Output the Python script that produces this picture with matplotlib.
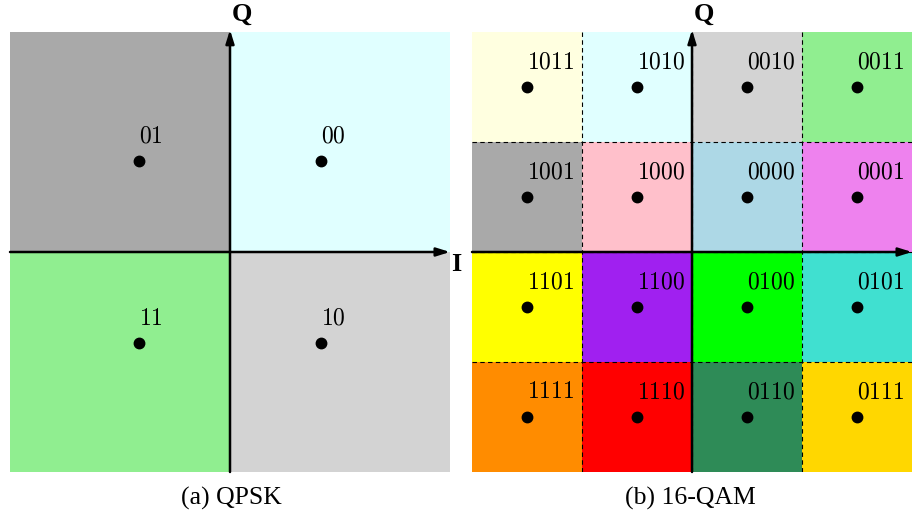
import matplotlib.pyplot as plt
from matplotlib.patches import Rectangle

plt.rcParams['mathtext.fontset'] = 'cm'

# QPSK
qpsk_i = [-1, 1, -1, 1]
qpsk_q = [1, 1, -1, -1]
qpsk_bits = ['01', '00', '11', '10']
qpsk_colors = ['darkgray', 'lightcyan', 'lightgreen', 'lightgray']

# 16-QAM (rows top to bottom)
qam_levels_i = [-3, -1, 1, 3]
qam_levels_q = [3, 1, -1, -3]
qam_bits = [['1011', '1010', '0010', '0011'],
            ['1001', '1000', '0000', '0001'],
            ['1101', '1100', '0100', '0101'],
            ['1111', '1110', '0110', '0111']]
qam_colors = [['lightyellow', 'lightcyan', 'lightgray', 'lightgreen'],
              ['darkgray', 'pink', 'lightblue', 'violet'],
              ['yellow', '#A020F0', 'lime', 'turquoise'],
              ['darkorange', 'red', 'seagreen', 'gold']]

W, H = 914, 513
fig = plt.figure(figsize=(W / 100, H / 100), dpi=100)

ax1 = fig.add_axes([10 / W, (H - 472) / H, 440 / W, 440 / H])
ax2 = fig.add_axes([472 / W, (H - 472) / H, 440 / W, 440 / H])

arrow = dict(arrowstyle='-|>,head_length=0.8,head_width=0.25', color='black', lw=1.8,
             shrinkA=0, shrinkB=0)


def draw_axes(ax, lim):
    ax.annotate('', xy=(lim, 0), xytext=(-lim, 0), arrowprops=arrow, annotation_clip=False)
    ax.annotate('', xy=(0, lim * 1.01), xytext=(0, -lim), arrowprops=arrow, annotation_clip=False)
    ax.text(lim * 1.005, -lim * 0.005, 'I', fontsize=19, fontweight='bold', family='Liberation Serif',
            ha='left', va='top', clip_on=False)
    ax.text(lim * 0.01, lim * 1.03, 'Q', fontsize=19, fontweight='bold', family='Liberation Serif',
            ha='left', va='bottom', clip_on=False)
    ax.set_xlim(-lim, lim)
    ax.set_ylim(-lim, lim)
    ax.axis('off')


# QPSK panel
lim1 = 2.42
for i, q, c in zip(qpsk_i, qpsk_q, qpsk_colors):
    ax1.add_patch(Rectangle((0 if i > 0 else -lim1, 0 if q > 0 else -lim1), lim1, lim1,
                            facecolor=c, edgecolor='none'))
ax1.plot(qpsk_i, qpsk_q, 'o', color='black', ms=7.5)
for i, q, b in zip(qpsk_i, qpsk_q, qpsk_bits):
    ax1.text(i, q + 0.2, '$\\mathrm{' + b + '}$', fontsize=17, ha='left', va='baseline')
draw_axes(ax1, lim1)

# 16-QAM panel
lim2 = 4
for r, q in enumerate(qam_levels_q):
    for k, i in enumerate(qam_levels_i):
        ax2.add_patch(Rectangle((i - 1, q - 1), 2, 2, facecolor=qam_colors[r][k], edgecolor='none'))
        ax2.plot(i, q, 'o', color='black', ms=7.5)
        ax2.text(i, q + 0.345, '$\\mathrm{' + qam_bits[r][k] + '}$', fontsize=17,
                 ha='left', va='baseline')
for v in [-2, 0, 2]:
    ax2.axvline(v, color='black', lw=0.8, ls=(0, (4, 3)))
    ax2.axhline(v, color='black', lw=0.8, ls=(0, (4, 3)))
draw_axes(ax2, lim2)

fig.text(231 / W, 1 - 505 / H, '(a) QPSK', fontsize=18.5, family='Liberation Serif',
         ha='center', va='baseline')
fig.text(690 / W, 1 - 505 / H, '(b) 16-QAM', fontsize=18.5, family='Liberation Serif',
         ha='center', va='baseline')

fig.savefig('out.png', dpi=100)
